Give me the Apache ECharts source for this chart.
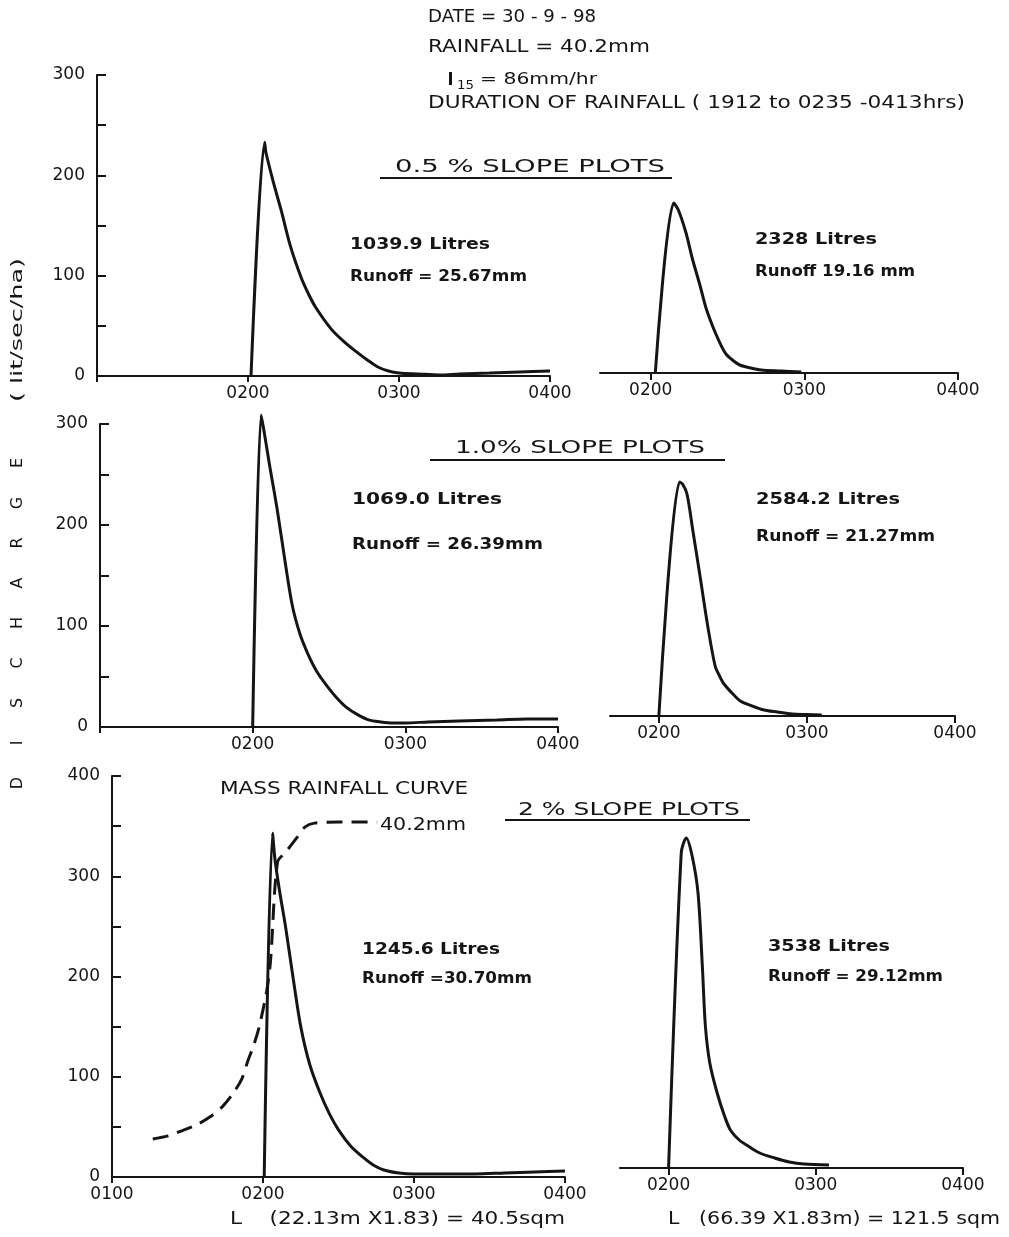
<!DOCTYPE html>
<html>
<head>
<meta charset="utf-8">
<title>Runoff hydrographs 30-9-98</title>
<script src="https://cdn.jsdelivr.net/npm/echarts@6/dist/echarts.min.js"></script>
<style>
  html, body { margin: 0; padding: 0; background: #ffffff; }
  #chart { width: 1009px; height: 1237px; }
</style>
</head>
<body>
<div id="chart"></div>
<script>
// time in hours (2 = 0200 hrs), discharge in lit/sec/ha
// 0.5 % slope
const time05Small = [2.02, 2.11, 2.12, 2.17, 2.22, 2.28, 2.35, 2.40, 2.45, 2.55, 2.63, 2.71, 2.79, 2.86, 2.93, 3.00, 3.13, 3.27, 3.40, 3.60, 3.80, 4.00];
const flow05Small = [0, 233, 222, 192, 165, 130, 99, 82, 68, 47, 35, 25, 16, 9, 5, 3, 2, 1, 2, 3, 4, 5];
const time05Large = [2.03, 2.15, 2.18, 2.23, 2.27, 2.32, 2.36, 2.40, 2.43, 2.46, 2.49, 2.54, 2.58, 2.65, 2.72, 2.85, 2.98];
const flow05Large = [0, 170, 163, 140, 115, 88, 65, 48, 37, 27, 19, 12, 8, 5, 3, 2, 1];
// 1.0 % slope
const time10Small = [2.00, 2.055, 2.07, 2.11, 2.16, 2.21, 2.26, 2.31, 2.36, 2.42, 2.49, 2.55, 2.61, 2.69, 2.76, 2.84, 2.92, 3.00, 3.15, 3.35, 3.60, 3.80, 4.00];
const flow10Small = [0, 309, 297, 260, 216, 166, 120, 92, 73, 55, 40, 29, 20, 12, 7, 5, 4, 4, 5, 6, 7, 8, 8];
const time10Large = [2.00, 2.14, 2.16, 2.19, 2.23, 2.28, 2.33, 2.38, 2.41, 2.44, 2.50, 2.55, 2.63, 2.71, 2.80, 2.90, 3.00, 3.10];
const flow10Large = [0, 234, 232, 222, 185, 138, 90, 50, 40, 32, 22, 15, 10, 6, 4, 2, 1.5, 1];
// 2 % slope
const time20Small = [2.008, 2.063, 2.08, 2.11, 2.15, 2.20, 2.25, 2.31, 2.38, 2.44, 2.50, 2.58, 2.66, 2.73, 2.80, 2.90, 3.00, 3.20, 3.40, 3.60, 3.80, 4.00];
const flow20Small = [0, 343, 316, 285, 249, 198, 150, 112, 83, 63, 47, 31, 20, 12, 7, 4, 3, 3, 3, 4, 5, 6];
const time20Large = [2.00, 2.086, 2.12, 2.16, 2.20, 2.23, 2.25, 2.28, 2.33, 2.38, 2.42, 2.48, 2.54, 2.62, 2.72, 2.82, 2.92, 3.09];
const flow20Large = [0, 315, 330, 312, 275, 200, 142, 105, 75, 52, 38, 28, 22, 15, 10, 6, 4, 3];
// mass rainfall curve (drawn on the 2 % small plot axes)
const timeRain = [1.27, 1.37, 1.47, 1.56, 1.65, 1.73, 1.80, 1.86, 1.90, 1.94, 1.975, 2.025, 2.05, 2.096, 2.15, 2.227, 2.277, 2.34, 2.50, 2.756];
const rainCurve = [38, 41, 46.5, 52, 60, 70, 83, 98, 116, 132, 150, 186, 216, 314, 324, 339, 349, 353, 354, 354];

const rightTicks = [2, 3, 4];

const FONT = '"DejaVu Sans", sans-serif';
const INK = '#151515';

const pairs = (xs, ys) => xs.map((x, i) => [x, ys[i]]);
const hhmm = v => '0' + Math.round(v) + '00';

const grids = [
  { left: 97, top: 75, width: 453, height: 301 },
  { left: 600, top: 73, width: 358, height: 300 },
  { left: 100, top: 424, width: 458, height: 303 },
  { left: 610, top: 416, width: 345, height: 300 },
  { left: 112, top: 776, width: 453, height: 401 },
  { left: 620, top: 768, width: 343, height: 400 }
];

function leftX(idx, showFirst) {
  return {
    type: 'value', gridIndex: idx, min: 1, max: 4, interval: 1,
    axisLine: { lineStyle: { color: INK, width: 2 } },
    axisTick: { show: true, length: 6, lineStyle: { color: INK, width: 2 } },
    axisLabel: {
      color: INK, fontFamily: FONT, fontSize: 17, margin: 9,
      formatter: v => (v === 1 && !showFirst) ? '' : hhmm(v)
    },
    splitLine: { show: false }
  };
}
function rightX(idx) {
  return {
    type: 'value', gridIndex: idx, min: 1.67, max: 4,
    axisLine: { lineStyle: { color: INK, width: 2 } },
    axisTick: { show: true, length: 7, customValues: rightTicks, lineStyle: { color: INK, width: 2 } },
    axisLabel: { color: INK, fontFamily: FONT, fontSize: 17, margin: 9, customValues: rightTicks, formatter: hhmm },
    splitLine: { show: false }
  };
}
function leftY(idx, max) {
  return {
    type: 'value', gridIndex: idx, min: 0, max: max, interval: 50,
    axisLine: { show: true, lineStyle: { color: INK, width: 2 } },
    axisTick: { show: true, inside: true, length: 9, lineStyle: { color: INK, width: 2 } },
    axisLabel: {
      color: INK, fontFamily: FONT, fontSize: 17, margin: 12,
      formatter: v => v % 100 === 0 ? String(v) : ''
    },
    splitLine: { show: false }
  };
}
function hiddenY(idx, max) {
  return { type: 'value', gridIndex: idx, min: 0, max: max, show: false, splitLine: { show: false } };
}
function curve(idx, xs, ys) {
  return {
    type: 'line', xAxisIndex: idx, yAxisIndex: idx, data: pairs(xs, ys),
    showSymbol: false, smooth: 0.3, clip: false,
    lineStyle: { color: INK, width: 3 }
  };
}

// text stretched horizontally to match the wide stencil lettering
const measureCtx = document.createElement('canvas').getContext('2d');
function fit(x1, x2, y, text, size, weight, extra) {
  const font = (weight || 'normal') + ' ' + size + 'px ' + FONT;
  measureCtx.font = font;
  const w = measureCtx.measureText(text).width;
  return Object.assign({
    type: 'text', x: x1, y: y, scaleX: (x2 - x1) / w,
    style: { text: text, font: font, fill: INK, textVerticalAlign: 'middle' }
  }, extra || {});
}
function rule(x1, x2, y) {
  return { type: 'line', shape: { x1: x1, y1: y, x2: x2, y2: y }, style: { stroke: INK, lineWidth: 2 } };
}

const graphics = [
  fit(428, 596, 18, 'DATE = 30 - 9 - 98', 17),
  fit(428, 650, 48, 'RAINFALL = 40.2mm', 17),
  fit(446, 455, 80, 'I', 18),
  fit(457, 474, 86, '15', 13),
  fit(480, 597, 80, '= 86mm/hr', 16),
  fit(428, 965, 104, 'DURATION OF RAINFALL ( 1912 to 0235 -0413hrs)', 17),

  fit(395, 665, 167, '0.5 % SLOPE PLOTS', 18), rule(380, 672, 178),
  fit(350, 490, 245, '1039.9 Litres', 15, 'bold'),
  fit(350, 527, 277, 'Runoff = 25.67mm', 15, 'bold'),
  fit(755, 877, 240, '2328 Litres', 15, 'bold'),
  fit(755, 915, 272, 'Runoff 19.16 mm', 15, 'bold'),

  fit(455, 705, 448, '1.0% SLOPE PLOTS', 18), rule(430, 725, 460),
  fit(352, 502, 500, '1069.0 Litres', 15, 'bold'),
  fit(352, 543, 545, 'Runoff = 26.39mm', 15, 'bold'),
  fit(756, 900, 500, '2584.2 Litres', 15, 'bold'),
  fit(756, 935, 537, 'Runoff = 21.27mm', 15, 'bold'),

  fit(220, 468, 790, 'MASS RAINFALL CURVE', 17),
  fit(380, 466, 826, '40.2mm', 17),
  fit(518, 740, 810, '2 % SLOPE PLOTS', 18), rule(505, 750, 820),
  fit(362, 500, 950, '1245.6 Litres', 15, 'bold'),
  fit(362, 532, 979, 'Runoff =30.70mm', 15, 'bold'),
  fit(768, 890, 947, '3538 Litres', 15, 'bold'),
  fit(768, 943, 977, 'Runoff = 29.12mm', 15, 'bold'),

  fit(230, 565, 1220, 'L    (22.13m X1.83) = 40.5sqm', 17),
  fit(668, 1000, 1220, 'L   (66.39 X1.83m) = 121.5 sqm', 17)
];
// vertical axis title, read from bottom to top
measureCtx.font = '16px ' + FONT;
graphics.push({
  type: 'text', x: 18, y: 330, rotation: Math.PI / 2,
  scaleX: 144 / measureCtx.measureText('( lit/sec/ha)').width,
  style: { text: '( lit/sec/ha)', font: '16px ' + FONT, fill: INK, textAlign: 'center', textVerticalAlign: 'middle' }
});
'DISCHARGE'.split('').forEach((ch, i) => {
  graphics.push({
    type: 'text', x: 18, y: 783 - i * 40, rotation: Math.PI / 2,
    style: { text: ch, font: '16px ' + FONT, fill: INK, textAlign: 'center', textVerticalAlign: 'middle' }
  });
});

const chart = echarts.init(document.getElementById('chart'));
chart.setOption({
  animation: false,
  backgroundColor: '#ffffff',
  grid: grids,
  xAxis: [leftX(0, false), rightX(1), leftX(2, false), rightX(3), leftX(4, true), rightX(5)],
  yAxis: [leftY(0, 300), hiddenY(1, 300), leftY(2, 300), hiddenY(3, 300), leftY(4, 400), hiddenY(5, 400)],
  series: [
    curve(0, time05Small, flow05Small),
    curve(1, time05Large, flow05Large),
    curve(2, time10Small, flow10Small),
    curve(3, time10Large, flow10Large),
    curve(4, time20Small, flow20Small),
    curve(5, time20Large, flow20Large),
    {
      type: 'line', xAxisIndex: 4, yAxisIndex: 4, data: pairs(timeRain, rainCurve),
      showSymbol: false, smooth: 0.3, clip: false,
      lineStyle: { color: INK, width: 3, type: [16, 9] }
    }
  ],
  graphic: graphics
});
</script>
</body>
</html>
